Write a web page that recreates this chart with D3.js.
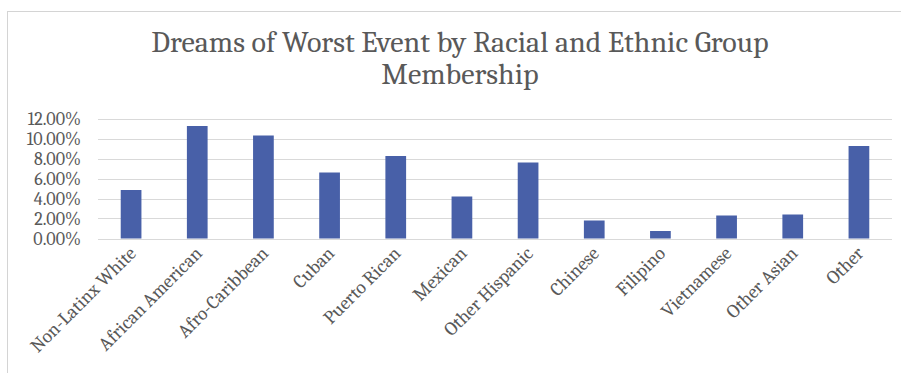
<!DOCTYPE html>
<html><head><meta charset="utf-8">
<script src="https://cdn.jsdelivr.net/npm/d3@7"></script>
<style>html,body{margin:0;padding:0;background:#fff;}svg{display:block;}</style>
</head><body>
<script>
const categories = ["Non-Latinx White","African American","Afro-Caribbean","Cuban","Puerto Rican","Mexican","Other Hispanic","Chinese","Filipino","Vietnamese","Other Asian","Other"];
const values = [0.0485, 0.1125, 0.1030, 0.0660, 0.0825, 0.0420, 0.0760, 0.0180, 0.0075, 0.0230, 0.0240, 0.0925];
const yTicks = [0, 0.02, 0.04, 0.06, 0.08, 0.10, 0.12];
const titleLines = ["Dreams of Worst Event by Racial and Ethnic Group", "Membership"];

const W = 901, H = 373;
const svg = d3.select("body").append("svg").attr("width", W).attr("height", H);
const font = "Cambria, Caladea, 'Liberation Serif', 'DejaVu Serif', serif";

svg.append("rect").attr("x", 7.5).attr("y", 11.5).attr("width", W).attr("height", H)
  .attr("fill", "#fff").attr("stroke", "#d4d4d4").attr("stroke-width", 1);

const x = d3.scaleBand().domain(categories).range([98, 892]).paddingInner(0.687).paddingOuter(0.3435);
const y = d3.scaleLinear().domain([0, 0.12]).range([238.5, 118.5]);

// gridlines
svg.append("g").selectAll("line").data(yTicks).join("line")
  .attr("x1", 98).attr("x2", 892)
  .attr("y1", d => Math.round(y(d)) + 0.5).attr("y2", d => Math.round(y(d)) + 0.5)
  .attr("stroke", "#d9d9d9").attr("stroke-width", 1);

// bars
svg.append("g").selectAll("rect").data(values).join("rect")
  .attr("x", (d, i) => x(categories[i]))
  .attr("width", x.bandwidth())
  .attr("y", d => y(d))
  .attr("height", d => y(0) - y(d))
  .attr("fill", "#4860a8");

// y axis labels
const yAxis = d3.axisLeft(y).tickValues(yTicks).tickFormat(d3.format(".2%")).tickSize(0).tickPadding(0);
const ya = svg.append("g").attr("transform", "translate(81,0)").call(yAxis);
ya.select(".domain").remove();
ya.selectAll("text").attr("font-family", font).attr("font-size", 18).attr("fill", "#595959").attr("dy", "0.35em");

// x axis labels
const xAxis = d3.axisBottom(x).tickSize(0).tickPadding(0);
const xa = svg.append("g").attr("transform", "translate(0,238.5)").call(xAxis);
xa.select(".domain").remove();
xa.selectAll("text")
  .attr("font-family", font).attr("font-size", 19).attr("fill", "#595959")
  .attr("text-anchor", "end").attr("dy", null).attr("y", 0)
  .attr("transform", "translate(6,16) rotate(-45)");

// title
svg.append("g").selectAll("text").data(titleLines).join("text")
  .attr("x", 460).attr("y", (d, i) => 52 + i * 32)
  .attr("text-anchor", "middle")
  .attr("font-family", font).attr("font-size", 30).attr("fill", "#595959")
  .text(d => d);
</script>
</body></html>
